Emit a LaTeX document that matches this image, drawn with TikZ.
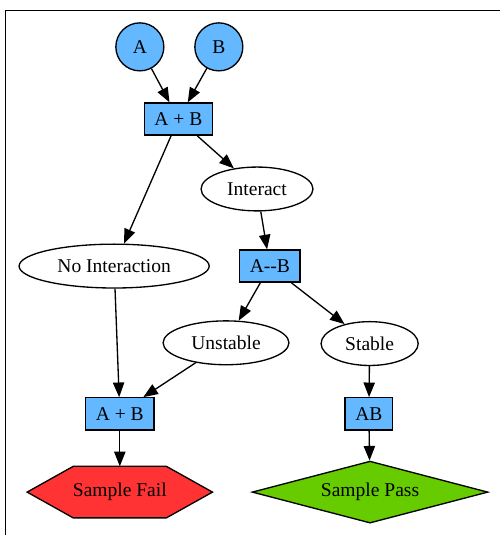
\documentclass[tikz,border=0pt]{standalone}
\usepackage{fontspec}
\setmainfont{Liberation Serif}
\usetikzlibrary{shapes.geometric, arrows.meta, calc, backgrounds}

\definecolor{compblue}{RGB}{99,184,255}
\definecolor{failred}{RGB}{255,51,51}
\definecolor{passgreen}{RGB}{102,204,0}

\begin{document}
\begin{tikzpicture}[font=\fontsize{14.7}{17}\selectfont]
    % Setup the styles for the nodes
    \tikzset{comp style/.style={circle,
                                minimum size=1.27cm,
                                draw, line width=1pt,
                                fill=compblue},
             box style/.style={rectangle,
                               minimum height=0.85cm,
                               inner xsep=0.27cm,
                               draw, line width=1pt,
                               fill=compblue},
             state style/.style={ellipse,
                                 minimum height=1.16cm,
                                 draw, line width=1pt}}

    % Page and frame
    \useasboundingbox (0, 0) rectangle (13.23, -14.155);
    \draw[line width=1pt] (0.146, -14.155) -- (0.146, -0.278) -- (13.23, -0.278);

    % Draw the nodes
    \node[comp style]  at (3.70, -1.24)  (compA)    {A};
    \node[comp style]  at (5.79, -1.24)  (compB)    {B};
    \node[box style]   at (4.72, -3.15)  (mix)      {A + B};
    \node[state style, minimum width=2.96cm] at (6.80, -5.00) (interact) {Interact};
    \node[state style, minimum width=5.03cm] at (3.02, -7.04) (nointer)  {No Interaction};
    \node[box style]   at (7.14, -7.04)  (complex)  {A-{}-B};
    \node[state style, minimum width=3.33cm] at (5.98, -9.07) (unstable) {Unstable};
    \node[state style, minimum width=2.57cm] at (9.78, -9.09) (stable)   {Stable};
    \node[box style]   at (3.17, -10.95) (apart)    {A + B};
    \node[box style]   at (9.76, -10.95) (bound)    {AB};
    \node[rectangle, minimum width=4.89cm, minimum height=1.35cm]
                       at (3.17, -13.02) (fail)     {Sample Fail};
    \node[diamond,
          aspect=3.8, minimum width=6.24cm, minimum height=1.64cm,
          draw, line width=1pt, fill=passgreen]
                       at (9.79, -13.02) (pass)     {Sample Pass};

    % Hexagon behind the fail node
    \begin{scope}[on background layer]
        \draw[line width=1pt, fill=failred]
            (fail.west) -- ($(fail.north west)+(1.22, 0)$)
            -- ($(fail.north east)+(-1.22, 0)$) -- (fail.east)
            -- ($(fail.south east)+(-1.22, 0)$)
            -- ($(fail.south west)+(1.22, 0)$) -- cycle;
    \end{scope}

    % Connect the nodes with arrows
    \draw[line width=1pt, -{Triangle[length=11pt, width=8.5pt]}]
        (compA)    edge (mix)
        (compB)    edge (mix)
        (mix)      edge (nointer)
        (mix)      edge (interact)
        (interact) edge (complex)
        (complex)  edge (unstable)
        (complex)  edge (stable)
        (nointer)  edge (apart)
        (unstable) edge ([xshift=-0.3cm]apart.north east)
        (stable)   edge (bound)
        (apart)    edge (fail)
        (bound)    edge (pass);
\end{tikzpicture}
\end{document}
